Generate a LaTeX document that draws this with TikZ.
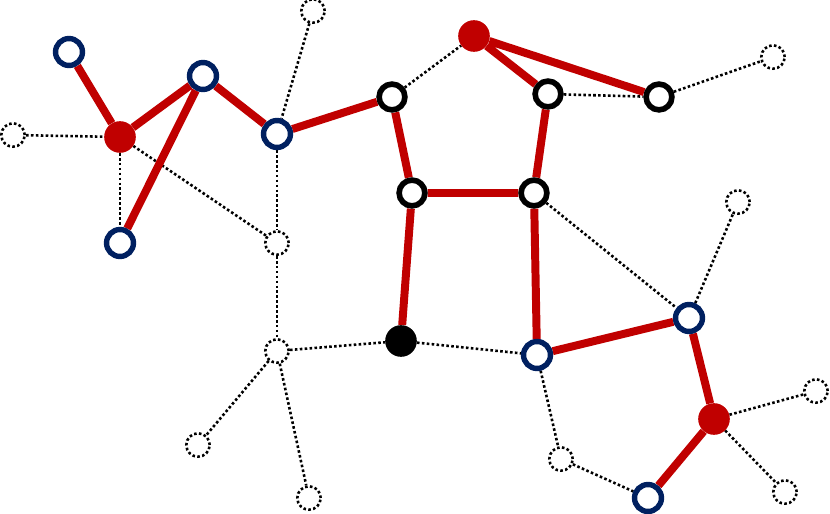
\documentclass[tikz,border=0pt]{standalone}
\usepackage{xcolor}
\usepackage{tikz}
\usetikzlibrary{backgrounds}
\definecolor{bondred}{RGB}{192,0,0}
\definecolor{navy}{RGB}{0,32,96}

\begin{document}
\begin{tikzpicture}[x=0.03cm,y=-0.03cm,
  ghost/.style={circle,draw=black,fill=white,line width=2.2pt,dash pattern=on 2.2pt off 2pt,minimum size=20pt,inner sep=0pt},
  bluev/.style={circle,draw=navy,fill=white,line width=4.6pt,minimum size=23pt,inner sep=0pt},
  blackv/.style={circle,draw=black,fill=white,line width=4.8pt,minimum size=22pt,inner sep=0pt},
  redv/.style={circle,fill=bondred,minimum size=27pt,inner sep=0pt},
  darkv/.style={circle,fill=black,minimum size=27pt,inner sep=0pt},
  bond/.style={bondred,line width=6.8pt},
  link/.style={black,line width=2.2pt,dash pattern=on 2.2pt off 2pt}]
\useasboundingbox (0,0) rectangle (830,514);
%\draw[step=50,gray,very thin] (0,0) grid (830,514);
% dotted vertices
\node[ghost] (g1) at (313,11) {};
\node[ghost] (g2) at (13,135) {};
\node[ghost] (g3) at (277,243) {};
\node[ghost] (g4) at (277,351) {};
\node[ghost] (g5) at (198,445) {};
\node[ghost] (g6) at (309,498) {};
\node[ghost] (g7) at (773,57) {};
\node[ghost] (g8) at (738,202) {};
\node[ghost] (g9) at (561,459) {};
\node[ghost] (g10) at (816,391) {};
\node[ghost] (g11) at (785,492) {};
% blue vertices
\node[bluev] (u1) at (69,52) {};
\node[bluev] (u2) at (203,76) {};
\node[bluev] (u3) at (277,134) {};
\node[bluev] (u4) at (120,243) {};
\node[bluev] (u5) at (537,355) {};
\node[bluev] (u6) at (689,318) {};
\node[bluev] (u7) at (648,498) {};
% red vertices
\node[redv] (r1) at (120,137) {};
\node[redv] (r2) at (474,36) {};
\node[redv] (r3) at (714,419) {};
% black vertices
\node[blackv] (k1) at (392,97) {};
\node[blackv] (k2) at (548,94) {};
\node[blackv] (k3) at (659,97) {};
\node[blackv] (k4) at (412,193) {};
\node[blackv] (k5) at (534,193) {};
\node[darkv] (f1) at (401,341) {};
\begin{scope}[on background layer]
\draw[link] (g1)--(u3);
\draw[link] (g2)--(r1);
\draw[link] (r1)--(u4);
\draw[link] (r1)--(g3);
\draw[link] (u3)--(g3)--(g4);
\draw[link] (g4)--(f1)--(u5);
\draw[link] (g4)--(g5);
\draw[link] (g4)--(g6);
\draw[link] (k1)--(r2);
\draw[link] (k2)--(k3)--(g7);
\draw[link] (k5)--(u6)--(g8);
\draw[link] (u5)--(g9)--(u7);
\draw[link] (r3)--(g10);
\draw[link] (r3)--(g11);
\draw[bond] (u1)--(r1)--(u2)--(u4);
\draw[bond] (u2)--(u3)--(k1)--(k4)--(k5)--(k2)--(r2)--(k3);
\draw[bond] (k4)--(f1);
\draw[bond] (k5)--(u5)--(u6)--(r3)--(u7);
\end{scope}
\end{tikzpicture}
\end{document}
